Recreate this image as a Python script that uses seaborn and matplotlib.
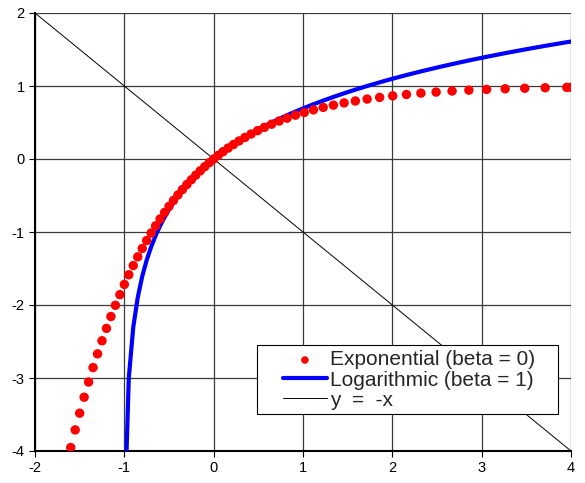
import numpy as np
import pandas as pd
import matplotlib
matplotlib.use('Agg')
import matplotlib.pyplot as plt
from matplotlib.patches import Rectangle
import seaborn as sns

# exponential (beta = 0) dots
exp_x = [-1.60, -1.55, -1.50, -1.45, -1.40, -1.35, -1.30, -1.25, -1.20, -1.15,
         -1.10, -1.05, -1.00, -0.95, -0.90, -0.85, -0.80, -0.75, -0.70, -0.65,
         -0.60, -0.55, -0.50, -0.45, -0.40, -0.35, -0.30, -0.25, -0.20, -0.15,
         -0.10, -0.05, 0.0,
         0.051, 0.105, 0.162, 0.221, 0.284, 0.350, 0.419, 0.492, 0.568, 0.649,
         0.733, 0.822, 0.916, 1.014, 1.117, 1.226, 1.340, 1.460, 1.586, 1.718,
         1.858, 2.004, 2.158, 2.320, 2.490, 2.669, 2.857, 3.055, 3.263, 3.482,
         3.711, 3.953, 4.0]
exp_y = [-3.953, -3.711, -3.482, -3.263, -3.055, -2.857, -2.669, -2.490, -2.320, -2.158,
         -2.004, -1.858, -1.718, -1.586, -1.460, -1.340, -1.226, -1.117, -1.014, -0.916,
         -0.822, -0.733, -0.649, -0.568, -0.492, -0.419, -0.350, -0.284, -0.221, -0.162,
         -0.105, -0.051, 0.0,
         0.050, 0.100, 0.150, 0.198, 0.247, 0.295, 0.342, 0.389, 0.433, 0.477,
         0.520, 0.560, 0.600, 0.637, 0.673, 0.707, 0.738, 0.768, 0.795, 0.821,
         0.844, 0.865, 0.884, 0.902, 0.917, 0.931, 0.943, 0.953, 0.962, 0.969,
         0.976, 0.981, 0.982]

# logarithmic (beta = 1) line
log_x = [-0.99, -0.95, -0.90, -0.85, -0.80, -0.75, -0.70, -0.65, -0.60, -0.55,
         -0.50, -0.45, -0.40, -0.35, -0.30, -0.25, -0.20, -0.15, -0.10, -0.05, 0.0,
         0.051, 0.105, 0.162, 0.221, 0.284, 0.350, 0.419, 0.492, 0.568, 0.649,
         0.733, 0.822, 0.916, 1.014, 1.117, 1.226, 1.340, 1.460, 1.586, 1.718,
         1.858, 2.004, 2.158, 2.320, 2.490, 2.669, 2.857, 3.055, 3.263, 3.482,
         3.711, 3.953, 4.0]
log_y = [-4.605, -2.996, -2.303, -1.897, -1.609, -1.386, -1.204, -1.050, -0.916, -0.799,
         -0.693, -0.598, -0.511, -0.431, -0.357, -0.288, -0.223, -0.163, -0.105, -0.051, 0.0,
         0.05, 0.10, 0.15, 0.20, 0.25, 0.30, 0.35, 0.40, 0.45, 0.50,
         0.55, 0.60, 0.65, 0.70, 0.75, 0.80, 0.85, 0.90, 0.95, 1.00,
         1.05, 1.10, 1.15, 1.20, 1.25, 1.30, 1.35, 1.40, 1.45, 1.50,
         1.55, 1.60, 1.609]

# y = -x
ref_x = [-2, 4]
ref_y = [2, -4]

x_ticks = [-2, -1, 0, 1, 2, 3, 4]
y_ticks = [-4, -3, -2, -1, 0, 1, 2]

sns.set_style('white')
plt.rcParams['font.family'] = ['Liberation Sans', 'DejaVu Sans']
plt.rcParams['axes.unicode_minus'] = False

fig = plt.figure(figsize=(5.85, 4.83), dpi=100)
ax = fig.add_axes([35/585, 1 - 451/483, 536/585, 438/483])

sns.lineplot(x=ref_x, y=ref_y, color='black', linewidth=0.7, ax=ax,
             label='y  =  -x', zorder=3)
sns.lineplot(x=log_x, y=log_y, color='#0000ff', linewidth=3.0, sort=False,
             estimator=None, ax=ax, label='Logarithmic (beta = 1)', zorder=4)
sns.scatterplot(x=exp_x, y=exp_y, color='#ff0000', s=46, edgecolor='none',
                ax=ax, label='Exponential (beta = 0)', zorder=5)

ax.set_xlim(-2, 4)
ax.set_ylim(-4, 2)
ax.set_xticks(x_ticks)
ax.set_yticks(y_ticks)
ax.grid(True, color='#3a3a3a', linewidth=0.9)
ax.set_axisbelow(True)
for side in ['top', 'right']:
    ax.spines[side].set_visible(False)
for side in ['left', 'bottom']:
    ax.spines[side].set_color('black')
    ax.spines[side].set_linewidth(1.5)
ax.tick_params(axis='both', which='both', direction='out', length=4, width=0.8,
               colors='black', labelsize=10.5, left=True, bottom=True)

# legend box (wide padding like the original)
box = Rectangle((0.414, 0.0845), 0.562, 0.1575, transform=ax.transAxes,
                facecolor='white', edgecolor='black', linewidth=0.8, zorder=6)
ax.add_patch(box)

h, l = ax.get_legend_handles_labels()
order = [2, 1, 0]
leg = ax.legend([h[i] for i in order], [l[i] for i in order],
                loc='upper left', bbox_to_anchor=(0.4627, 0.2295),
                borderaxespad=0, borderpad=0, frameon=False,
                fontsize=15, handlelength=2.1, handletextpad=0.15,
                labelspacing=0.05, markerscale=0.8)
leg.set_zorder(7)

fig.savefig('out.png', dpi=100)
